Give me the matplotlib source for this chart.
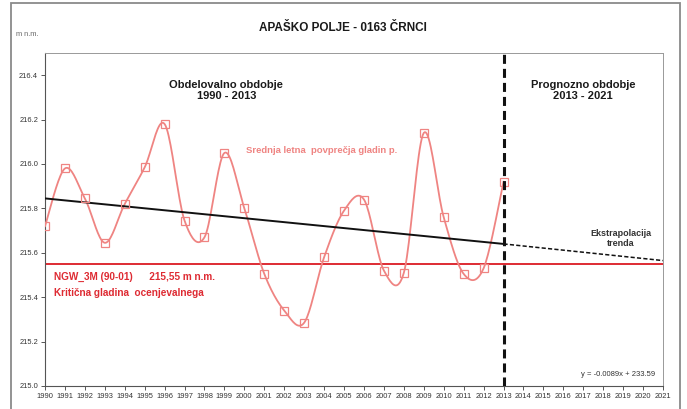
import numpy as np
import matplotlib
matplotlib.use('Agg')
import matplotlib.pyplot as plt
from matplotlib.patches import Rectangle

plt.rcParams['font.family'] = ['Liberation Sans', 'DejaVu Sans']
plt.rcParams['lines.scale_dashes'] = False

# mean annual groundwater level (m n.m.)
years = list(range(1990, 2014))
levels = [215.72, 215.98, 215.845, 215.645, 215.82, 215.985, 216.18, 215.745,
          215.67, 216.05, 215.80, 215.505, 215.34, 215.285, 215.58, 215.79,
          215.84, 215.52, 215.51, 216.14, 215.76, 215.505, 215.53, 215.92]

# linear trend and its extrapolation
trend_years = [1990, 2013]
trend_vals = [215.845, 215.64]
extra_years = [2013, 2021]
extra_vals = [215.64, 215.565]

critical_level = 215.55
split_year = 2013
x_ticks = list(range(1990, 2022))
y_ticks = [215.0, 215.2, 215.4, 215.6, 215.8, 216.0, 216.2, 216.4]

pink = '#EF8482'
red = '#DE2B33'


def smooth(x, y, n=20):
    # Catmull-Rom, close to Excel's smoothed line
    x = np.asarray(x, float)
    y = np.asarray(y, float)
    px = np.concatenate([[x[0]], x, [x[-1]]])
    py = np.concatenate([[y[0]], y, [y[-1]]])
    xs, ys = [], []
    t = np.linspace(0, 1, n, endpoint=False)
    for i in range(1, len(px) - 2):
        p0x, p1x, p2x, p3x = px[i - 1:i + 3]
        p0y, p1y, p2y, p3y = py[i - 1:i + 3]
        c1x, c1y = p1x + (p2x - p0x) / 6, p1y + (p2y - p0y) / 6
        c2x, c2y = p2x - (p3x - p1x) / 6, p2y - (p3y - p1y) / 6
        b0, b1, b2, b3 = (1 - t) ** 3, 3 * t * (1 - t) ** 2, 3 * t ** 2 * (1 - t), t ** 3
        xs.extend(b0 * p1x + b1 * c1x + b2 * c2x + b3 * p2x)
        ys.extend(b0 * p1y + b1 * c1y + b2 * c2y + b3 * p2y)
    xs.append(x[-1])
    ys.append(y[-1])
    return xs, ys


fig = plt.figure(figsize=(6.87, 4.09), dpi=100)
ax = fig.add_axes([45 / 687, 1 - 386 / 409, 618 / 687, 333 / 409])

# chart border
fig.patches.append(Rectangle((11 / 687, -0.05), 669 / 687, 1.05 - 3 / 409,
                             transform=fig.transFigure, fill=False,
                             edgecolor='#8a8a8a', linewidth=1.3))

sx, sy = smooth(years, levels)
ax.plot(sx, sy, color=pink, linewidth=1.3, zorder=3)
ax.plot(years, levels, linestyle='none', marker='s', markersize=5.5,
        markerfacecolor='none', markeredgecolor=pink, markeredgewidth=0.9, zorder=4)

ax.plot(trend_years, trend_vals, color='#111111', linewidth=1.4, zorder=3)
ax.plot(extra_years, extra_vals, color='#111111', linewidth=1.1,
        dashes=(3, 1.6), zorder=3)
ax.axhline(critical_level, color=red, linewidth=1.4, zorder=2)
ax.axvline(split_year, color='#111111', linewidth=2.2, dashes=(6.5, 3.6), zorder=5)

ax.set_xlim(1990, 2021)
ax.set_ylim(215.0, 216.5)
ax.set_xticks(x_ticks)
ax.set_xticklabels([str(v) for v in x_ticks])
ax.set_yticks(y_ticks)
ax.set_yticklabels(['%.1f' % v for v in y_ticks])
ax.tick_params(labelsize=5.4, labelcolor='#333333', color='#555555',
               length=3, width=0.7, pad=2)
for s in ['top', 'right']:
    ax.spines[s].set_color('#999999')
    ax.spines[s].set_linewidth(0.7)
for s in ['left', 'bottom']:
    ax.spines[s].set_color('#555555')
    ax.spines[s].set_linewidth(0.8)

fig.text(343 / 687, 1 - 28 / 409, 'APAŠKO POLJE - 0163 ČRNCI', ha='center',
         va='center', fontsize=8.5, fontweight='bold', color='#1a1a1a')
fig.text(16 / 687, 1 - 35 / 409, 'm n.m.', ha='left', va='center',
         fontsize=5.3, color='#666666')

ax.text(1999.1, 216.33, 'Obdelovalno obdobje\n1990 - 2013', ha='center',
        va='center', fontsize=8, fontweight='bold', color='#1a1a1a',
        linespacing=1.1)
ax.text(2017.0, 216.33, 'Prognozno obdobje\n2013 - 2021', ha='center',
        va='center', fontsize=8, fontweight='bold', color='#1a1a1a',
        linespacing=1.1)
ax.text(2000.1, 216.06, 'Srednja letna  povprečja gladin p.', ha='left',
        va='center', fontsize=6.8, fontweight='bold', color=pink)
ax.text(1990.45, 215.49, 'NGW_3M (90-01)      215,55 m n.m.', ha='left',
        va='center', fontsize=7.2, fontweight='bold', color=red)
ax.text(1990.45, 215.42, 'Kritična gladina  ocenjevalnega', ha='left',
        va='center', fontsize=7.2, fontweight='bold', color=red)
ax.text(2018.9, 215.665, 'Ekstrapolacija\ntrenda', ha='center', va='center',
        fontsize=6.5, fontweight='bold', color='#333333', linespacing=1.1)
ax.text(2020.6, 215.05, 'y = -0.0089x + 233.59', ha='right', va='center',
        fontsize=5.5, color='#333333')

fig.savefig('out.png', dpi=100)
